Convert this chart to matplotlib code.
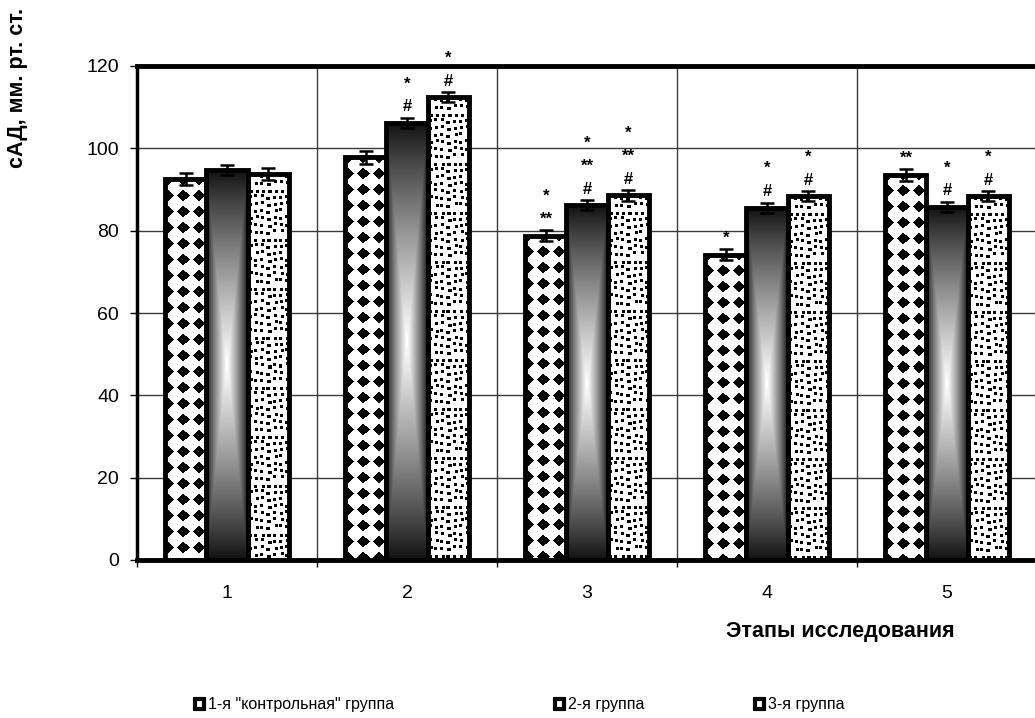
import matplotlib
matplotlib.use('Agg')
import matplotlib.pyplot as plt
import numpy as np
from matplotlib.patches import Rectangle

plt.rcParams['font.family'] = ['Liberation Sans', 'DejaVu Sans']

# data
stages = ['1', '2', '3', '4', '5']
series_names = ['1-я "контрольная" группа', '2-я группа', '3-я группа']
group1 = [92.5, 97.8, 78.8, 74.2, 93.6]
group2 = [94.8, 106.2, 86.2, 85.6, 85.8]
group3 = [93.8, 112.4, 88.6, 88.4, 88.4]
err1 = [1.5, 1.5, 1.3, 1.3, 1.5]
err2 = [1.2, 1.2, 1.2, 1.2, 1.2]
err3 = [1.5, 1.2, 1.3, 1.3, 1.3]
# significance marks, listed bottom to top
marks1 = [[], [], ['**', '*'], ['*'], ['**']]
marks2 = [[], ['#', '*'], ['#', '**', '*'], ['#', '*'], ['#', '*']]
marks3 = [[], ['#', '*'], ['#', '**', '*'], ['#', '*'], ['#', '*']]

values = [group1, group2, group3]
errors = [err1, err2, err3]
marks = [marks1, marks2, marks3]

W, H, DPI = 1035, 718, 100
fig = plt.figure(figsize=(W / DPI, H / DPI), dpi=DPI)
ax = fig.add_axes([137 / W, 158 / H, 900 / W, 494 / H])

x = np.arange(1, len(stages) + 1)
bw = 0.228
ax.set_xlim(0.5, len(stages) + 0.5)
ax.set_ylim(0, 120)
ax.set_yticks(np.arange(0, 121, 20))
ax.set_xticks(x)
ax.set_xticklabels(stages)
ax.set_xticks(np.arange(0.5, len(stages) + 1, 1), minor=True)
ax.tick_params(axis='x', which='major', length=0, labelsize=14, pad=18)
ax.tick_params(axis='x', which='minor', length=5, width=1, direction='out')
ax.tick_params(axis='y', length=5, width=1, labelsize=14, pad=8)
ax.grid(True, axis='y', color='#3a3a3a', linewidth=1)
ax.grid(True, axis='x', which='minor', color='#3a3a3a', linewidth=1)
ax.set_axisbelow(True)
for side in ['top', 'bottom', 'left', 'right']:
    ax.spines[side].set_linewidth(3.5)
    ax.spines[side].set_zorder(6)
ax.spines['left'].set_linewidth(2.5)


def tex_diamond(h, w):
    yy, xx = np.mgrid[0:h, 0:w]
    u = (xx - 10) % 15 - 7.5
    v = (yy - 8) % 16 - 8
    on = (np.abs(u) + np.abs(v)) < 6.0
    img = np.ones((h, w))
    img[on] = 0
    return img


def tex_grad(h, w):
    yy, xx = np.mgrid[0:h, 0:w]
    dx = np.abs(xx - (w - 1) / 2) / (w / 2)
    dy = np.abs(yy - (h - 1) / 2) / (h / 2)
    t = np.maximum(dx, dy)
    return 0.05 + 0.95 * (1 - t) ** 0.85


def tex_confetti(h, w):
    img = np.ones((h, w))
    for i in range(0, h, 7):
        for j in range(0, w, 6):
            k = (i // 7) * 131 + (j // 6) * 71 + (i // 7) * (j // 6) * 17
            oy = (k % 7) % 4
            ox = ((k // 7) % 5) % 3
            img[i + oy:i + oy + 3, j + ox:j + ox + 3] = 0
    return img


textures = [tex_diamond, tex_grad, tex_confetti]

fig.canvas.draw()
for s in range(3):
    xs = x + (s - 1) * bw
    bars = ax.bar(xs, values[s], bw, facecolor='none', edgecolor='black',
                  linewidth=3.5, zorder=3)
    for b in bars:
        x0, y0 = b.get_x(), 0
        x1, y1 = x0 + b.get_width(), b.get_height()
        p0 = ax.transData.transform((x0, y0))
        p1 = ax.transData.transform((x1, y1))
        pw = max(int(round(p1[0] - p0[0])), 2)
        ph = max(int(round(p1[1] - p0[1])), 2)
        img = textures[s](ph, pw)
        im = ax.imshow(img, cmap='gray', vmin=0, vmax=1, extent=[x0, x1, y0, y1],
                       aspect='auto', interpolation='nearest', zorder=2.5,
                       origin='upper')
        im.set_clip_path(b)
    ax.errorbar(xs, values[s], yerr=errors[s], fmt='none', ecolor='black',
                elinewidth=1.8, capsize=5, capthick=1.8, zorder=4)
    for i, ms in enumerate(marks[s]):
        for k, m in enumerate(ms):
            ax.annotate(m, (xs[i], values[s][i]), xytext=(0, 16 + 23 * k),
                        textcoords='offset pixels', ha='center', va='center',
                        fontsize=12, fontweight='bold', zorder=5,
                        annotation_clip=False)

ax.set_xlim(0.5, len(stages) + 0.5)
ax.set_ylim(0, 120)

fig.text(840 / W, 1 - 631 / H, 'Этапы исследования', ha='center', va='center',
         fontsize=15.5, fontweight='bold')
fig.text(18 / W, 1 - 88 / H, 'сАД, мм. рт. ст.', ha='center', va='center',
         rotation=90, fontsize=15.5, fontweight='bold')

legend_x = [195, 555, 755]
for name, lx in zip(series_names, legend_x):
    h = Rectangle((0, 0), 1, 1, facecolor='white', edgecolor='black', linewidth=3)
    leg = fig.legend([h], [name], loc='center left',
                     bbox_to_anchor=(lx / W, 1 - 705 / H), frameon=False,
                     fontsize=11.5, handlelength=0.55, handleheight=0.55,
                     handletextpad=0.25, borderpad=0, borderaxespad=0)

fig.savefig('out.png', dpi=DPI)
